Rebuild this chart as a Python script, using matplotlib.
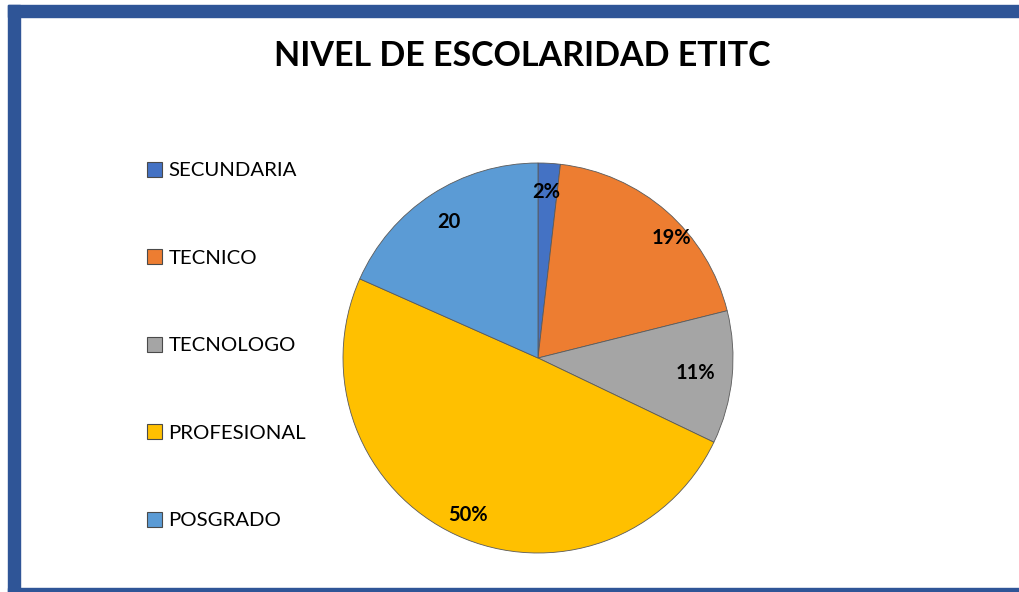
import matplotlib
matplotlib.use("Agg")
import matplotlib.pyplot as plt
from matplotlib.patches import Patch, Rectangle

categories = ["SECUNDARIA", "TECNICO", "TECNOLOGO", "PROFESIONAL", "POSGRADO"]
values = [2, 21, 12, 54, 20]
colors = ["#4472C4", "#ED7D31", "#A5A5A5", "#FFC000", "#5B9BD5"]
title = "NIVEL DE ESCOLARIDAD ETITC"
# data-label placement (pie units, radius 1), as in the reference layout
label_pos = [(0.041, 0.851), (0.687, 0.615), (0.810, -0.077),
             (-0.359, -0.805), (-0.456, 0.697)]

plt.rcParams['font.family'] = ['Lato', 'DejaVu Sans']

W, H = 1020, 592
fig = plt.figure(figsize=(W / 100, H / 100), dpi=100)
fig.patch.set_facecolor("white")

# Pie axes: center (538,358), radius 195 px
cx, cy, r = 538, 358, 195
ax = fig.add_axes([(cx - r) / W, (H - cy - r) / H, 2 * r / W, 2 * r / H])
wedges, texts, autotexts = ax.pie(
    values, colors=colors, startangle=90, counterclock=False,
    autopct=lambda p: f"{p:.0f}%", pctdistance=0.86, radius=1,
    wedgeprops=dict(edgecolor="#5a5a5a", linewidth=0.6),
    textprops=dict(fontsize=14.5, fontweight="bold", color="black"))
autotexts[-1].set_text(str(values[-1]))
for t, p in zip(autotexts, label_pos):
    t.set_position(p)
ax.set_xlim(-1, 1)
ax.set_ylim(-1, 1)
ax.set_aspect("equal")
ax.axis("off")

fig.text(522 / W, 1 - 56 / H, title, ha="center", va="center",
         fontsize=24.5, fontweight="bold")

handles = [Patch(facecolor=c, edgecolor="#4a4a4a", linewidth=0.8) for c in colors]
fig.legend(handles, categories, loc="center left",
           bbox_to_anchor=(147 / W, 1 - 345.5 / H), frameon=False,
           borderpad=0, borderaxespad=0, handlelength=0.75, handleheight=0.75,
           handletextpad=0.3, labelspacing=3.42, fontsize=14.7)

# blue frame
bc = "#2F5597"
fig.patches.append(Rectangle((8 / W, 1 - 17 / H), 1 - 8 / W, 12 / H,
                             transform=fig.transFigure, color=bc, zorder=5))
fig.patches.append(Rectangle((8 / W, 0), 12 / W, 1 - 5 / H,
                             transform=fig.transFigure, color=bc, zorder=5))
fig.patches.append(Rectangle((8 / W, 0), 1 - 8 / W, 4 / H,
                             transform=fig.transFigure, color=bc, zorder=5))

fig.savefig("out.png", dpi=100)
